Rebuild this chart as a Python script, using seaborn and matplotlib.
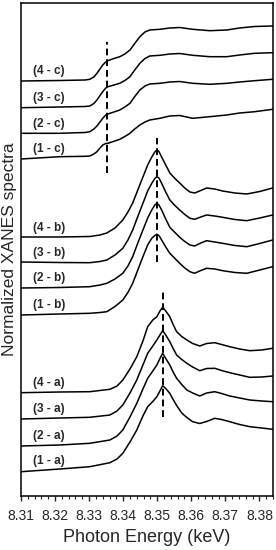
import numpy as np
import seaborn as sns
from matplotlib import pyplot as plt
from matplotlib.ticker import MultipleLocator

sns.set_style("ticks")
plt.rcParams["font.family"] = ["Liberation Sans", "DejaVu Sans"]

# photon energy grids (keV) for each group of spectra
energy_c = [8.3100, 8.3214, 8.3288, 8.3302, 8.3314, 8.3323, 8.3332, 8.3340, 8.3349,
            8.3355, 8.3373, 8.3390, 8.3405, 8.3420, 8.3434, 8.3449, 8.3464, 8.3478,
            8.3508, 8.3537, 8.3566, 8.3604, 8.3654, 8.3704, 8.3742, 8.3786, 8.3839]
energy_b = [8.3100, 8.3214, 8.3302, 8.3332, 8.3352, 8.3376, 8.3399, 8.3414, 8.3428,
            8.3443, 8.3458, 8.3472, 8.3484, 8.3493, 8.3499, 8.3505, 8.3513, 8.3525,
            8.3537, 8.3552, 8.3566, 8.3581, 8.3596, 8.3610, 8.3628, 8.3645, 8.3669,
            8.3692, 8.3728, 8.3763, 8.3801, 8.3839]
energy_a = [8.3100, 8.3214, 8.3302, 8.3361, 8.3382, 8.3399, 8.3420, 8.3440, 8.3458,
            8.3472, 8.3487, 8.3499, 8.3508, 8.3516, 8.3525, 8.3537, 8.3546, 8.3557,
            8.3572, 8.3587, 8.3604, 8.3625, 8.3645, 8.3669, 8.3689, 8.3713, 8.3742,
            8.3772, 8.3807, 8.3839]

# stacked normalized spectra (arbitrary units, offset already applied)
c4 = [415, 415.5, 416, 416.7, 419, 422.7, 427, 431, 434, 435.3, 437.5, 439.3, 442, 446,
      452.5, 459.3, 464, 466, 466.7, 468, 468.5, 466.7, 465.3, 466, 468, 469.5, 470]
c3 = [388.3, 389, 389.5, 390, 392.5, 396, 400.5, 404.3, 408, 409.3, 411, 412.7, 415.5,
      419.3, 426, 432.7, 437.5, 440, 440.7, 442, 442.5, 440.7, 439.3, 439.3, 441, 442.7, 443.3]
c2 = [362.7, 362.7, 363.5, 364.3, 367, 370, 374, 377.7, 381, 382, 384, 386, 389, 392.7,
      399.5, 406, 410, 412, 412.7, 414, 414.5, 412.7, 411.7, 412.7, 414, 415.3, 416.7]
c1 = [337, 339.3, 339.7, 340, 342, 344.3, 348, 351, 352.5, 352.7, 354.7, 356.7, 359.5,
      362.7, 367, 371, 374, 376, 377.7, 380, 380.5, 377.7, 379.3, 381, 383, 384.3, 386.7]

b4 = [259, 259, 259.5, 261, 263, 268, 276, 284, 293, 306, 319, 331, 339, 344, 346, 344.5,
      339, 331, 323, 317.5, 313, 308, 304, 303, 305.5, 308, 307, 305, 303, 302, 304.5, 308]
b3 = [234, 233.5, 233.3, 234.5, 236, 241, 247.7, 256, 266, 279.5, 292.7, 305, 312.7, 317.5,
      319.3, 318, 312.7, 304, 296, 290.5, 286, 281.5, 277.7, 276.7, 279, 281, 280, 278.7,
      276.5, 275.3, 278, 281]
b2 = [208, 208.5, 209.3, 211, 212.7, 217, 222.7, 230, 239.3, 253, 266, 278, 286, 291,
      292.7, 291, 286, 277, 268.7, 263.5, 258.7, 254.5, 251, 250, 253, 255.3, 254, 252.7,
      250.5, 249.3, 252.5, 256]
b1 = [181, 182, 182.7, 183.5, 184.3, 189.5, 196, 203.5, 212.7, 226, 239.3, 251, 257.7,
      260.5, 261.7, 260.5, 256, 249, 242.7, 237.5, 232.7, 228, 224.3, 222.7, 225.5, 227.7,
      227, 225.3, 223.5, 222.7, 226, 229.3]

a4 = [103.3, 104, 104.3, 106.7, 110, 116, 127, 139.3, 155, 169.3, 176, 179.3, 185, 188.7,
      185, 179.3, 172, 164.3, 159.5, 156, 152.5, 150, 152.5, 153.3, 151.5, 149.3, 147,
      145.3, 146, 147.7]
a3 = [77, 78, 78.7, 81, 85, 91, 103, 116, 131, 142.7, 150, 156, 161, 165.3, 161, 154.3,
      148, 141, 136.5, 132.7, 129, 125.3, 127.5, 127.7, 125.5, 123.3, 121, 118.7, 119, 120]
a2 = [50, 51, 52.7, 56, 60, 66, 79, 92.7, 107, 117.7, 125, 131, 137.5, 142.7, 137.5, 131,
      124.5, 117.7, 111.5, 106, 103, 100, 103, 104.3, 102.5, 100, 98, 96, 95, 94.3]
a1 = [24.3, 27, 29.3, 33.3, 37, 42.7, 54, 66, 80, 89.3, 94.5, 99.3, 105, 110.3, 107.5,
      102.7, 97, 90.5, 83, 78.5, 74.3, 72.5, 74.5, 77.7, 76.5, 74.3, 71.5, 69.3, 68, 66.7]

labels = ["(4 - c)", "(3 - c)", "(2 - c)", "(1 - c)",
          "(4 - b)", "(3 - b)", "(2 - b)", "(1 - b)",
          "(4 - a)", "(3 - a)", "(2 - a)", "(1 - a)"]
spectra = [(energy_c, c4), (energy_c, c3), (energy_c, c2), (energy_c, c1),
           (energy_b, b4), (energy_b, b3), (energy_b, b2), (energy_b, b1),
           (energy_a, a4), (energy_a, a3), (energy_a, a2), (energy_a, a1)]

# white-line positions marked by dashed lines
edge_energy = [8.3352, 8.3499, 8.3516]
edge_low = [322.7, 234.0, 79.3]
edge_high = [454.3, 358.0, 204.3]

fig = plt.figure(figsize=(2.76, 5.5), dpi=100)
ax = fig.add_axes([21 / 276, 54 / 550, 252 / 276, 493 / 550])

for label, (e, v) in zip(labels, spectra):
    sns.lineplot(x=e, y=v, ax=ax, color="black", lw=1.1)
    ax.text(8.3135, np.interp(8.3135, e, v) + 9.5, label, fontsize=8.5,
            fontweight="bold", va="center", ha="left")

ax.vlines(edge_energy, edge_low, edge_high, colors="black", lw=1.4,
          linestyles=(0, (3.5, 2)))

ax.set_xlim(8.31, 8.384)
ax.set_ylim(0, 493)
ax.xaxis.set_major_locator(MultipleLocator(0.01))
ax.xaxis.set_minor_locator(MultipleLocator(0.002))
ax.xaxis.set_major_formatter(plt.FormatStrFormatter("%.2f"))
ax.set_yticks([])
ax.tick_params(axis="x", which="major", length=3.5, width=1, direction="out",
               labelsize=10, pad=6)
ax.tick_params(axis="x", which="minor", length=2, width=0.8, direction="out")
for s in ax.spines.values():
    s.set_linewidth(1.1)
    s.set_color("black")

ax.set_xlabel("Photon Energy (keV)", fontsize=13, labelpad=4)
ax.set_ylabel("Normalized XANES spectra", fontsize=12.5, labelpad=3)

fig.savefig("out.png", dpi=100)
